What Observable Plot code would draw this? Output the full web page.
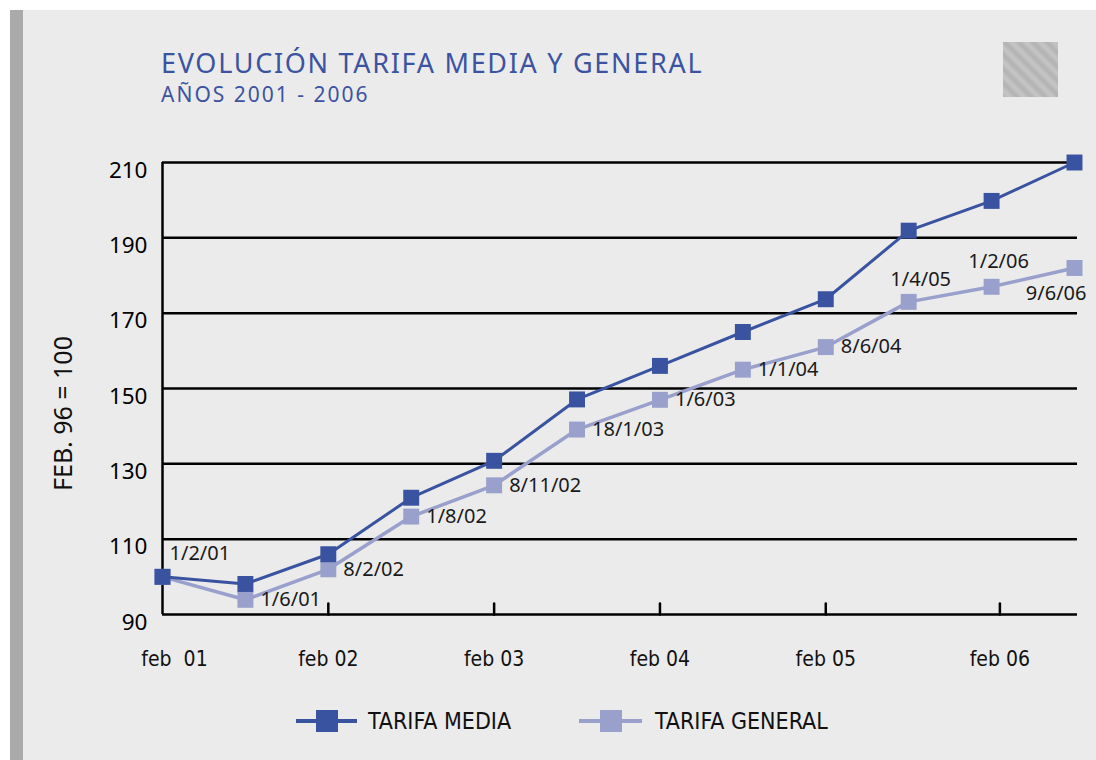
<!DOCTYPE html>
<html>
<head>
<meta charset="utf-8">
<script src="https://cdn.jsdelivr.net/npm/d3@7"></script>
<script src="https://cdn.jsdelivr.net/npm/@observablehq/plot@0.6"></script>
<style>
  html, body { margin: 0; padding: 0; background: #ffffff; }
  #page { position: relative; width: 1096px; height: 760px; overflow: hidden; }
  #panel { position: absolute; left: 10px; top: 10px; right: 0; bottom: 0; background: #ebebeb; }
  #bar { position: absolute; left: 10px; top: 10px; width: 13px; bottom: 0; background: #aaaaaa; }
  #logo { position: absolute; left: 1003px; top: 42px; width: 55px; height: 55px;
    background: repeating-linear-gradient(45deg, #b2b2b2 0px, #c6c6c6 5px, #b2b2b2 10px); }
  .t { position: absolute; white-space: nowrap; font-family: "Noto Sans", sans-serif; line-height: 1; }
  #title { left: 161px; top: 49px; font-size: 27px; letter-spacing: 1.7px; color: #3b53a1; }
  #subtitle { left: 161px; top: 84px; font-size: 21px; letter-spacing: 2px; color: #3b53a1; }
  #chart { position: absolute; left: 0; top: 120px; }
  svg text { white-space: pre; }
  .leg { position: absolute; top: 710px; height: 22px; }
  .leg .ln { position: absolute; top: 9px; height: 4px; }
  .leg .sq { position: absolute; top: 0; width: 22px; height: 22px; }
  .leg .lb { position: absolute; top: 0px; font-family: "Liberation Sans Narrow", "DejaVu Sans Condensed", sans-serif;
    font-size: 23px; line-height: 23px; color: #111; white-space: nowrap; }
</style>
</head>
<body>
<div id="page">
  <div id="panel"></div>
  <div id="bar"></div>
  <div id="logo"></div>
  <div id="title" class="t"></div>
  <div id="subtitle" class="t"></div>
  <div id="chart"></div>
  <div id="legend"></div>
</div>
<script>
const titleText = "EVOLUCIÓN TARIFA MEDIA Y GENERAL";
const subtitleText = "AÑOS 2001 - 2006";
const yLabel = "FEB. 96 = 100";

const seriesNames = ["TARIFA MEDIA", "TARIFA GENERAL"];
const seriesColors = ["#3a53a0", "#99a0cc"];

const dateLabels = ["1/2/01", "1/6/01", "8/2/02", "1/8/02", "8/11/02", "18/1/03",
                    "1/6/03", "1/1/04", "8/6/04", "1/4/05", "1/2/06", "9/6/06"];
const tarifaMedia   = [100, 98.1, 106, 121, 130.8, 147.1, 156, 165, 173.7, 191.9, 199.8, 210];
const tarifaGeneral = [100, 93.9, 102, 116, 124.3, 139.1, 147, 155, 161, 173, 177, 182];

const yTicks = [90, 110, 130, 150, 170, 190, 210];
const xTickPos = [0, 2, 4, 6, 8, 10.1];
const xTickLabels = ["feb  01", "feb 02", "feb 03", "feb 04", "feb 05", "feb 06"];

document.getElementById("title").textContent = titleText;
document.getElementById("subtitle").textContent = subtitleText;

const rows = dateLabels.map((label, i) => ({i, label, media: tarifaMedia[i], general: tarifaGeneral[i]}));

const labelFont = {fontFamily: "Noto Sans, sans-serif", fontSize: 20, fill: "#1a1a1a"};
const pick = (idx) => rows.filter(d => idx.includes(d.i));
const xFont = {fontSize: 21, fontFamily: "Liberation Sans Narrow, DejaVu Sans Condensed, sans-serif", fill: "#111"};
const xFmt = d => xTickLabels[xTickPos.indexOf(d)];

const tickShape = {draw(context, l) { context.moveTo(0, 0); context.lineTo(0, -l); }};

const chart = Plot.plot({
  width: 1096,
  height: 590,
  marginLeft: 162,
  marginRight: 22,
  marginTop: 42,
  marginBottom: 96,
  style: {background: "transparent", overflow: "visible"},
  x: {domain: [0, 11], axis: null},
  y: {domain: [90, 210], axis: null},
  marks: [
    Plot.ruleY(yTicks, {stroke: "#000", strokeWidth: 2.5, insetRight: -3}),
    Plot.ruleX([0], {stroke: "#000", strokeWidth: 2.5}),
    Plot.vectorX(xTickPos.slice(1), {x: d => d, frameAnchor: "bottom", anchor: "start", length: 11,
      rotate: 0, shape: tickShape, stroke: "#000", strokeWidth: 2.5}),
    Plot.axisX(xTickPos.slice(1), {tickSize: 0, tickPadding: 37, label: null, tickFormat: xFmt, ...xFont}),
    Plot.axisX(xTickPos.slice(0, 1), {tickSize: 0, tickPadding: 37, label: null, tickFormat: xFmt, dx: 12, ...xFont}),
    Plot.axisY(yTicks, {tickSize: 0, tickPadding: 15, dy: 8, label: null, fontSize: 22.5,
      fontFamily: "Noto Sans, sans-serif", fill: "#000"}),
    Plot.text([yLabel], {frameAnchor: "left", textAnchor: "middle", rotate: -90, dx: -99, dy: 25, fontSize: 25,
      fontFamily: "Noto Sans, sans-serif", fill: "#111"}),
    Plot.line(rows, {x: "i", y: "general", stroke: seriesColors[1], strokeWidth: 3.5}),
    Plot.dot(rows, {x: "i", y: "general", symbol: "square", r: 9, fill: seriesColors[1], stroke: null}),
    Plot.line(rows, {x: "i", y: "media", stroke: seriesColors[0], strokeWidth: 3}),
    Plot.dot(rows, {x: "i", y: "media", symbol: "square", r: 9, fill: seriesColors[0], stroke: null}),
    Plot.text(pick([1, 2, 3, 4, 5, 6, 7, 8]), {x: "i", y: "general", text: "label", textAnchor: "start", dx: 15, dy: 0, ...labelFont}),
    Plot.text(pick([0]), {x: "i", y: "general", text: "label", textAnchor: "start", dx: 7, dy: -23, ...labelFont}),
    Plot.text(pick([9]), {x: "i", y: "general", text: "label", textAnchor: "middle", dx: 12, dy: -22, ...labelFont}),
    Plot.text(pick([10]), {x: "i", y: "general", text: "label", textAnchor: "middle", dx: 7, dy: -25, ...labelFont}),
    Plot.text(pick([11]), {x: "i", y: "general", text: "label", textAnchor: "end", dx: 12, dy: 26, ...labelFont})
  ]
});
document.getElementById("chart").appendChild(chart);

// legend
const legendPos = [{line: 296, w: 61, sq: 316, lb: 368}, {line: 579, w: 63, sq: 600, lb: 655}];
const legend = document.getElementById("legend");
seriesNames.forEach((name, k) => {
  const p = legendPos[k];
  const item = document.createElement("div");
  item.className = "leg";
  item.style.left = "0px";
  item.innerHTML =
    `<div class="ln" style="left:${p.line}px;width:${p.w}px;background:${seriesColors[k]}"></div>` +
    `<div class="sq" style="left:${p.sq}px;background:${seriesColors[k]}"></div>` +
    `<div class="lb" style="left:${p.lb}px">${name}</div>`;
  legend.appendChild(item);
});
</script>
</body>
</html>
